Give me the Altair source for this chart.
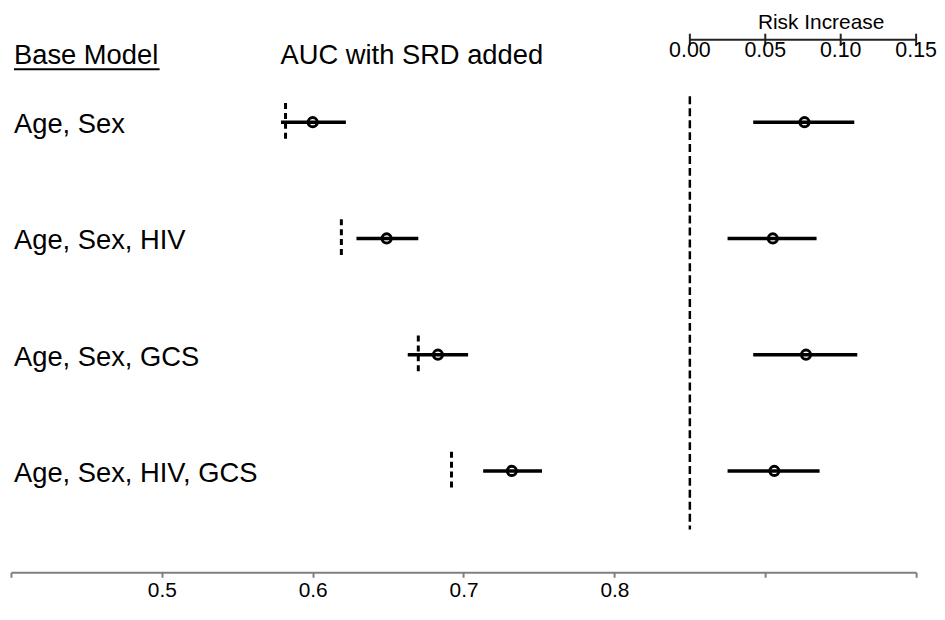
import altair as alt
import pandas as pd

# ---- data ----
models = ["Age, Sex", "Age, Sex, HIV", "Age, Sex, GCS", "Age, Sex, HIV, GCS"]
rows = [1, 2, 3, 4]
auc_base = [0.582, 0.619, 0.670, 0.692]
auc_srd = [0.600, 0.649, 0.683, 0.732]
auc_lo = [0.579, 0.629, 0.663, 0.713]
auc_hi = [0.622, 0.670, 0.703, 0.752]
risk_inc = [0.076, 0.055, 0.077, 0.056]
risk_lo = [0.042, 0.025, 0.042, 0.025]
risk_hi = [0.109, 0.084, 0.111, 0.086]
risk_ticks = [0.00, 0.05, 0.10, 0.15]
auc_ticks = [0.4, 0.5, 0.6, 0.7, 0.8, 0.9, 1.0]
risk_origin = 0.85  # where "Risk Increase = 0" sits on the AUC axis

df = pd.DataFrame({
    "model": models, "row": rows, "base": auc_base, "srd": auc_srd,
    "lo": auc_lo, "hi": auc_hi, "risk": risk_inc, "rlo": risk_lo, "rhi": risk_hi,
})
ticks_df = pd.DataFrame({"tick": risk_ticks})
one = pd.DataFrame({"k": [0]})

FONT = "Liberation Sans"
H = 566
ROW_PX = 117.0
y0 = 1 - 113 / ROW_PX
xscale = alt.Scale(domain=[0.4, 1.0], nice=False, zero=False)
yscale = alt.Scale(domain=[y0, y0 + H / ROW_PX], nice=False, zero=False, reverse=True)

X = alt.X("lo:Q", scale=xscale, axis=alt.Axis(
    values=auc_ticks, grid=False, title=None,
    labelExpr="datum.value > 0.45 && datum.value < 0.85 ? format(datum.value, '.1f') : ''",
    domainColor="#7f7f7f", domainWidth=2, tickColor="#7f7f7f", tickWidth=2, tickSize=5,
    labelFont=FONT, labelFontSize=21, labelColor="black", labelPadding=2,
))
Y = alt.Y("row:Q", scale=yscale, axis=None)

base = alt.Chart(df)

ci = base.mark_rule(color="black", strokeWidth=3.5).encode(x=X, x2="hi:Q", y=Y)
pts = base.mark_point(shape="circle", filled=False, color="black", opacity=1, size=85, strokeWidth=3).encode(
    x="srd:Q", y="row:Q")
base_ticks = base.transform_calculate(y1="datum.row - 0.165", y2="datum.row + 0.165").mark_rule(
    color="black", strokeWidth=3, strokeDash=[6, 4]).encode(x="base:Q", y="y1:Q", y2="y2:Q")

risk = base.transform_calculate(
    rx=f"{risk_origin} + datum.risk", rx1=f"{risk_origin} + datum.rlo", rx2=f"{risk_origin} + datum.rhi")
rci = risk.mark_rule(color="black", strokeWidth=3.5).encode(x="rx1:Q", x2="rx2:Q", y="row:Q")
rpts = risk.mark_point(shape="circle", filled=False, color="black", opacity=1, size=85, strokeWidth=3).encode(
    x="rx:Q", y="row:Q")

labels = base.mark_text(align="left", baseline="middle", font=FONT, fontSize=27.5, color="black", dy=3).encode(
    x=alt.datum(0.402), y="row:Q", text="model:N")

zero_line = alt.Chart(one).mark_rule(color="black", strokeWidth=2.5, strokeDash=[8, 4]).encode(
    x=alt.datum(risk_origin), y=alt.datum(0.778), y2=alt.datum(4.504))

hdr1 = alt.Chart(one).mark_text(text="Base Model", align="left", baseline="middle", font=FONT,
                                fontSize=27.5, color="black").encode(x=alt.datum(0.402), y=alt.datum(0.43))
underline = alt.Chart(one).mark_rule(color="black", strokeWidth=2).encode(
    x=alt.datum(0.402), x2=alt.datum(0.4985), y=alt.datum(0.545))
hdr2 = alt.Chart(one).mark_text(text="AUC with SRD added", align="center", baseline="middle", font=FONT,
                                fontSize=27.5, color="black").encode(x=alt.datum(0.6657), y=alt.datum(0.43))

raxis_line = alt.Chart(one).mark_rule(color="#222222", strokeWidth=2).encode(
    x=alt.datum(risk_origin), x2=alt.datum(risk_origin + 0.15), y=alt.datum(0.291))
rt = alt.Chart(ticks_df).transform_calculate(tx=f"{risk_origin} + datum.tick")
raxis_ticks = rt.mark_rule(color="#222222", strokeWidth=2).encode(
    x="tx:Q", y=alt.datum(0.239), y2=alt.datum(0.342))
raxis_labels = rt.mark_text(baseline="middle", align="center", font=FONT, fontSize=21.5, color="black").encode(
    x="tx:Q", y=alt.datum(0.39), text=alt.Text("tick:Q", format=".2f"))
rtitle = alt.Chart(one).mark_text(text="Risk Increase", align="center", baseline="middle", font=FONT,
                                  fontSize=21, color="black").encode(x=alt.datum(0.937), y=alt.datum(0.15))

chart = alt.layer(
    ci, zero_line, base_ticks, pts, rci, rpts, labels, hdr1, underline, hdr2,
    raxis_line, raxis_ticks, raxis_labels, rtitle,
).properties(
    width=911, height=H,
    padding={"left": 2, "top": 0, "right": 0, "bottom": 0},
    background="white",
).configure_view(stroke=None)

chart.save("out.html", embed_options={"renderer": "svg", "actions": False})
